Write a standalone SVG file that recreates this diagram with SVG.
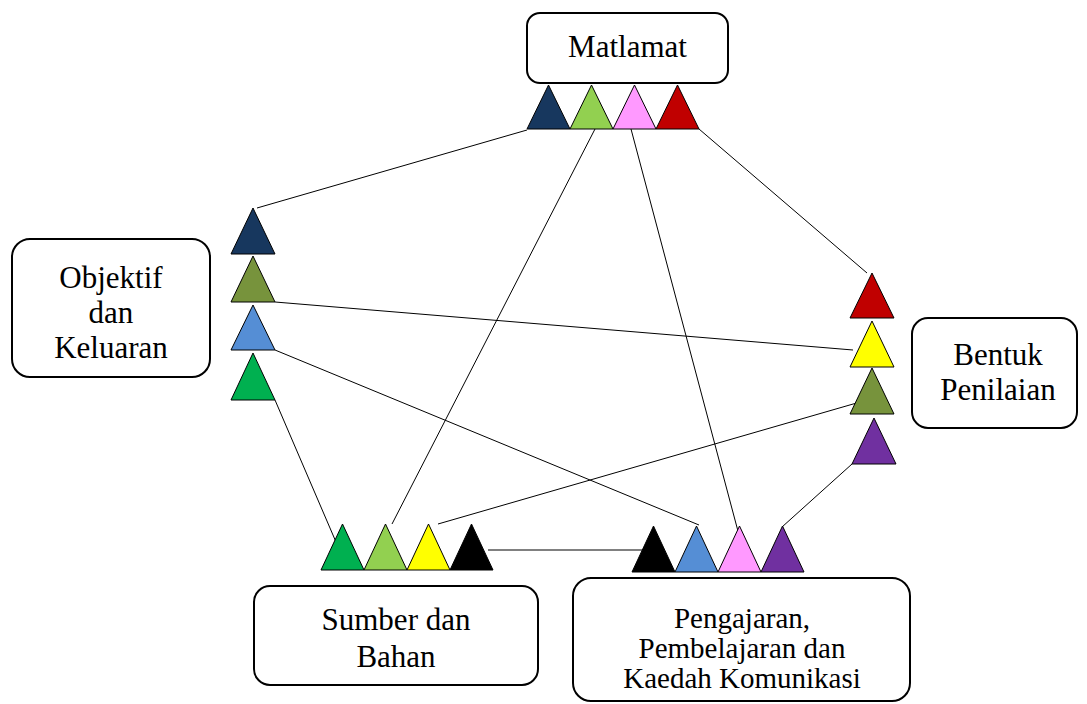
<svg xmlns="http://www.w3.org/2000/svg" width="1087" height="704" viewBox="0 0 1087 704">
<style>
.box{fill:#fff;stroke:#000;stroke-width:2}
.t{font-family:"Liberation Serif","Times New Roman",serif;font-size:31px;fill:#000;text-anchor:middle}
.t2{font-family:"Liberation Serif","Times New Roman",serif;font-size:29px;fill:#000;text-anchor:middle}
.tri{stroke:#000;stroke-width:1;stroke-linejoin:miter}
.ln{stroke:#000;stroke-width:1;fill:none}
.gray{stroke:#808080;stroke-width:2.2;fill:none}
</style>
<rect width="1087" height="704" fill="#fff"/>
<g id="connectors">
<line class="ln" x1="527" y1="130" x2="257" y2="208"/>
<line class="ln" x1="595" y1="129" x2="392" y2="524"/>
<line class="ln" x1="631" y1="129" x2="743" y2="550"/>
<line class="ln" x1="699" y1="129" x2="867" y2="273"/>
<line class="ln" x1="275" y1="302" x2="853" y2="350"/>
<line class="ln" x1="275" y1="350" x2="699" y2="525"/>
<line class="ln" x1="275" y1="400" x2="339" y2="549"/>
<line class="ln" x1="438" y1="524" x2="867" y2="400"/>
<line class="ln" x1="852" y1="464" x2="782" y2="527"/>
<line class="gray" x1="488" y1="550" x2="642" y2="550"/>
</g>
<g id="matlamat">
<rect class="box" x="527" y="13" width="201" height="70" rx="13"/>
<text class="t" x="627.5" y="57">Matlamat</text>
<polygon class="tri" fill="#17375E" points="527,129 548.5,85 570,129"/>
<polygon class="tri" fill="#92D050" points="570,129 591.5,85 613,129"/>
<polygon class="tri" fill="#FF99FF" points="613,129 634.5,85 656,129"/>
<polygon class="tri" fill="#C00000" points="656,129 677.5,85 699,129"/>
</g>
<g id="objektif">
<rect class="box" x="12" y="239" width="198" height="138" rx="18"/>
<text class="t" x="111" y="288">Objektif</text>
<text class="t" x="111" y="323">dan</text>
<text class="t" x="111" y="358">Keluaran</text>
<polygon class="tri" fill="#17375E" points="231,254 253,208 275,254"/>
<polygon class="tri" fill="#77933C" points="231,302 253,256 275,302"/>
<polygon class="tri" fill="#558ED5" points="231,350 253,305 275,350"/>
<polygon class="tri" fill="#00B050" points="231,400 253,353 275,400"/>
</g>
<g id="bentuk">
<rect class="box" x="912" y="318" width="165" height="110" rx="16"/>
<text class="t" x="998" y="365">Bentuk</text>
<text class="t" x="998" y="400">Penilaian</text>
<polygon class="tri" fill="#C00000" points="850,318 872,273 894,318"/>
<polygon class="tri" fill="#FFFF00" points="850,367 872,321 894,367"/>
<polygon class="tri" fill="#77933C" points="850,414 872,368 894,414"/>
<polygon class="tri" fill="#7030A0" points="852,464 874,418 896,464"/>
</g>
<g id="sumber">
<rect class="box" x="254" y="586" width="284" height="99" rx="16"/>
<text class="t" x="396" y="630">Sumber dan</text>
<text class="t" x="396" y="667">Bahan</text>
<polygon class="tri" fill="#00B050" points="321,570 342.5,524 364,570"/>
<polygon class="tri" fill="#92D050" points="364,570 385.5,524 407,570"/>
<polygon class="tri" fill="#FFFF00" points="407,570 428.5,524 450,570"/>
<polygon class="tri" fill="#000000" points="450,570 471.5,524 493,570"/>
</g>
<g id="pengajaran">
<rect class="box" x="573" y="578" width="337" height="123" rx="18"/>
<text class="t2" x="742" y="628">Pengajaran,</text>
<text class="t2" x="742" y="658">Pembelajaran dan</text>
<text class="t2" x="742" y="688">Kaedah Komunikasi</text>
<polygon class="tri" fill="#000000" points="632,572 653.5,526 675,572"/>
<polygon class="tri" fill="#558ED5" points="675,572 696.5,526 718,572"/>
<polygon class="tri" fill="#FF99FF" points="718,572 739.5,526 761,572"/>
<polygon class="tri" fill="#7030A0" points="761,572 782.5,526 804,572"/>
</g>
</svg>
